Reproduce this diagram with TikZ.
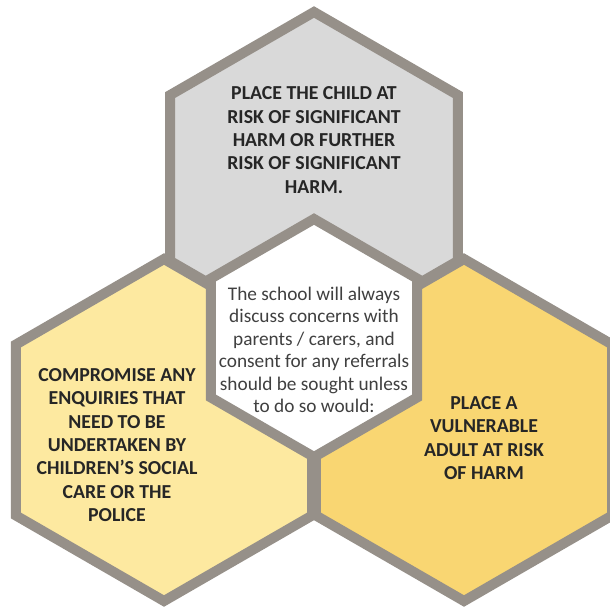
\documentclass[tikz,border=0pt]{standalone}
\usepackage{fontspec}
\setmainfont{Carlito}
\usetikzlibrary{positioning}
\definecolor{HexGrey}{HTML}{969089}
\definecolor{TopGrey}{HTML}{D9D9D9}
\definecolor{PaleGold}{HTML}{FDE9A0}
\definecolor{DeepGold}{HTML}{F9D672}
\definecolor{TextDark}{HTML}{262626}
\definecolor{TextGrey}{HTML}{404040}

% hexagon with a point at the top: centre, radius, fill
\newcommand{\hexcell}[3]{%
  \draw[hexedge, fill=#3] (#1) +(90:#2) -- +(150:#2) -- +(210:#2) -- +(270:#2) -- +(330:#2) -- +(30:#2) -- cycle;}

\begin{document}
\begin{tikzpicture}[x=1pt, y=-1pt,
    hexedge/.style={draw=HexGrey, line width=10pt, line join=miter},
    caps/.style={align=center, text=TextDark, font=\fontsize{19.8}{23.3}\selectfont\bfseries},
    plain/.style={align=center, text=TextGrey, font=\fontsize{19.3}{22.5}\selectfont}]
        \useasboundingbox (0,0) rectangle (610,608);

        % Cell centres
        \coordinate (topCell) at (314,178);
        \coordinate (leftCell) at (164,430);
        \coordinate (rightCell) at (464,430);
        \coordinate (midCell) at (314,338);

        % Outer cells
        \hexcell{topCell}{166}{TopGrey}
        \hexcell{leftCell}{171}{PaleGold}
        \hexcell{rightCell}{171}{DeepGold}

        % Centre cell
        \hexcell{midCell}{119}{white}

        % Labels
        \node[caps] (topText) at (314,140) {PLACE THE CHILD AT\\RISK OF SIGNIFICANT\\HARM OR FURTHER\\RISK OF SIGNIFICANT\\HARM.};
        \node[caps] (leftText) at (117,445) {COMPROMISE ANY\\ENQUIRIES THAT\\NEED TO BE\\UNDERTAKEN BY\\CHILDREN’S SOCIAL\\CARE OR THE\\POLICE};
        \node[caps] (rightText) at (484,438) {PLACE A\\VULNERABLE\\ADULT AT RISK\\OF HARM};
        \node[plain] (midText) at (314,350) {The school will always\\discuss concerns with\\parents / carers, and\\consent for any referrals\\should be sought unless\\to do so would:};

    \end{tikzpicture}
\end{document}
